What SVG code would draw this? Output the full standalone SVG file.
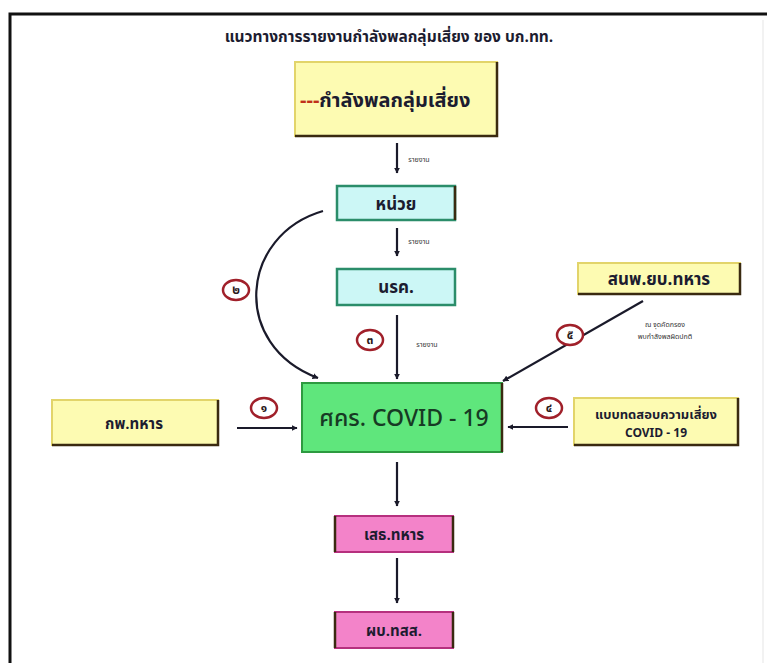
<svg xmlns="http://www.w3.org/2000/svg" width="767" height="663" viewBox="0 0 767 663">
<defs>
<marker id="ah" viewBox="0 0 10 10" refX="9" refY="5" markerWidth="6" markerHeight="6" orient="auto" markerUnits="userSpaceOnUse"><path d="M0,0 L10,5 L0,10 z" fill="#1a1a2a"/></marker>
<style>
text{font-family:"Noto Sans Thai","Noto Sans","DejaVu Sans",sans-serif;fill:#1c1c30;font-weight:bold;text-anchor:middle}
.y{fill:#fdfbb2;stroke:#e2d46a;stroke-width:2}
.c{fill:#ccf7f6;stroke:#2b8d6a;stroke-width:2.5}
.g{fill:#5fe67c;stroke:#2d9a40;stroke-width:2}
.p{fill:#f383c9;stroke:#b6307e;stroke-width:2}
.sh{fill:none;stroke:#3a2a10;stroke-width:2.5}
.ln{fill:none;stroke:#1a1a2a;stroke-width:2.2}
.ov{fill:#fff;stroke:#a0202a;stroke-width:2.5}
.num{font-size:12px;fill:#2a1a1a}
.sm{font-size:7px;font-weight:normal;fill:#333}
</style>
</defs>
<rect width="767" height="663" fill="#fff"/>
<path d="M10,663 V14 H767" fill="none" stroke="#111" stroke-width="3"/>
<path d="M763,20 V663" fill="none" stroke="#eee" stroke-width="1.5"/>
<text x="389" y="42" font-size="15.5">แนวทางการรายงานกำลังพลกลุ่มเสี่ยง ของ บก.ทท.</text>

<g id="n-risk">
<rect class="y" x="295" y="62" width="202" height="74"/>
<path class="sh" d="M497,62 V136 H295"/>
<text x="300" y="107" font-size="20" style="text-anchor:start"><tspan fill="#c0301a">---</tspan>กำลังพลกลุ่มเสี่ยง</text>
</g>
<g id="n-unit">
<rect class="c" x="337" y="186" width="118" height="34"/>
<path class="sh" d="M455,186 V220" stroke="#1a5a3a"/>
<text x="396" y="210" font-size="17">หน่วย</text>
</g>
<g id="n-nrk">
<rect class="c" x="337" y="269" width="118" height="36"/>
<text x="396" y="293" font-size="17">นรค.</text>
</g>
<g id="n-skr">
<rect class="g" x="302" y="383" width="200" height="69"/>
<path class="sh" d="M502,383 V452" stroke="#1a4a20"/>
<text x="404" y="426" font-size="23" style="font-weight:500;fill:#173a24">ศคร. COVID - 19</text>
</g>
<g id="n-kp">
<rect class="y" x="52" y="400" width="166" height="45"/>
<path class="sh" d="M218,400 V445 H52"/>
<text x="134" y="429" font-size="15">กพ.ทหาร</text>
</g>
<g id="n-test">
<rect class="y" x="574" y="398" width="164" height="47"/>
<path class="sh" d="M738,398 V445 H574"/>
<text x="656" y="419" font-size="13">แบบทดสอบความเสี่ยง</text>
<text x="656" y="437" font-size="12">COVID - 19</text>
</g>
<g id="n-snp">
<rect class="y" x="578" y="263" width="162" height="31"/>
<path class="sh" d="M740,263 V294 H578"/>
<text x="659" y="285" font-size="17">สนพ.ยบ.ทหาร</text>
</g>
<g id="n-seth">
<rect class="p" x="335" y="516" width="118" height="36"/>
<path class="sh" d="M335,516 V552 M453,516 V552" stroke="#6a1040"/>
<text x="394" y="540" font-size="15">เสธ.ทหาร</text>
</g>
<g id="n-pb">
<rect class="p" x="335" y="612" width="118" height="36"/>
<path class="sh" d="M335,612 V648 M453,612 V648" stroke="#6a1040"/>
<text x="394" y="636" font-size="15">ผบ.ทสส.</text>
</g>

<g id="connectors">
<path class="ln" d="M397,143 V173" marker-end="url(#ah)"/>
<path class="ln" d="M397,228 V256" marker-end="url(#ah)"/>
<path class="ln" d="M397,315 V379" marker-end="url(#ah)"/>
<path class="ln" d="M323,211 C240,235 230,345 318,378" marker-end="url(#ah)"/>
<path class="ln" d="M237,428 H297" marker-end="url(#ah)"/>
<path class="ln" d="M568,427 H508" marker-end="url(#ah)"/>
<path class="ln" d="M643,301 L503,381" marker-end="url(#ah)"/>
<path class="ln" d="M397,462 V506" marker-end="url(#ah)"/>
<path class="ln" d="M397,558 V603" marker-end="url(#ah)"/>
<text class="sm" x="419" y="162">รายงาน</text>
<text class="sm" x="419" y="244">รายงาน</text>
<text class="sm" x="427" y="347">รายงาน</text>
<text class="sm" x="665" y="327">ณ จุดคัดกรอง</text>
<text class="sm" x="665" y="339">พบกำลังพลผิดปกติ</text>
<ellipse class="ov" cx="264" cy="408" rx="13" ry="10"/><text class="num" x="264" y="412">๑</text>
<ellipse class="ov" cx="236" cy="290" rx="13" ry="10"/><text class="num" x="236" y="294">๒</text>
<ellipse class="ov" cx="370" cy="340" rx="13" ry="10"/><text class="num" x="370" y="344">๓</text>
<ellipse class="ov" cx="549" cy="408" rx="13" ry="10"/><text class="num" x="549" y="412">๔</text>
<ellipse class="ov" cx="570" cy="335" rx="13" ry="10"/><text class="num" x="570" y="339">๕</text>
</g>
</svg>
